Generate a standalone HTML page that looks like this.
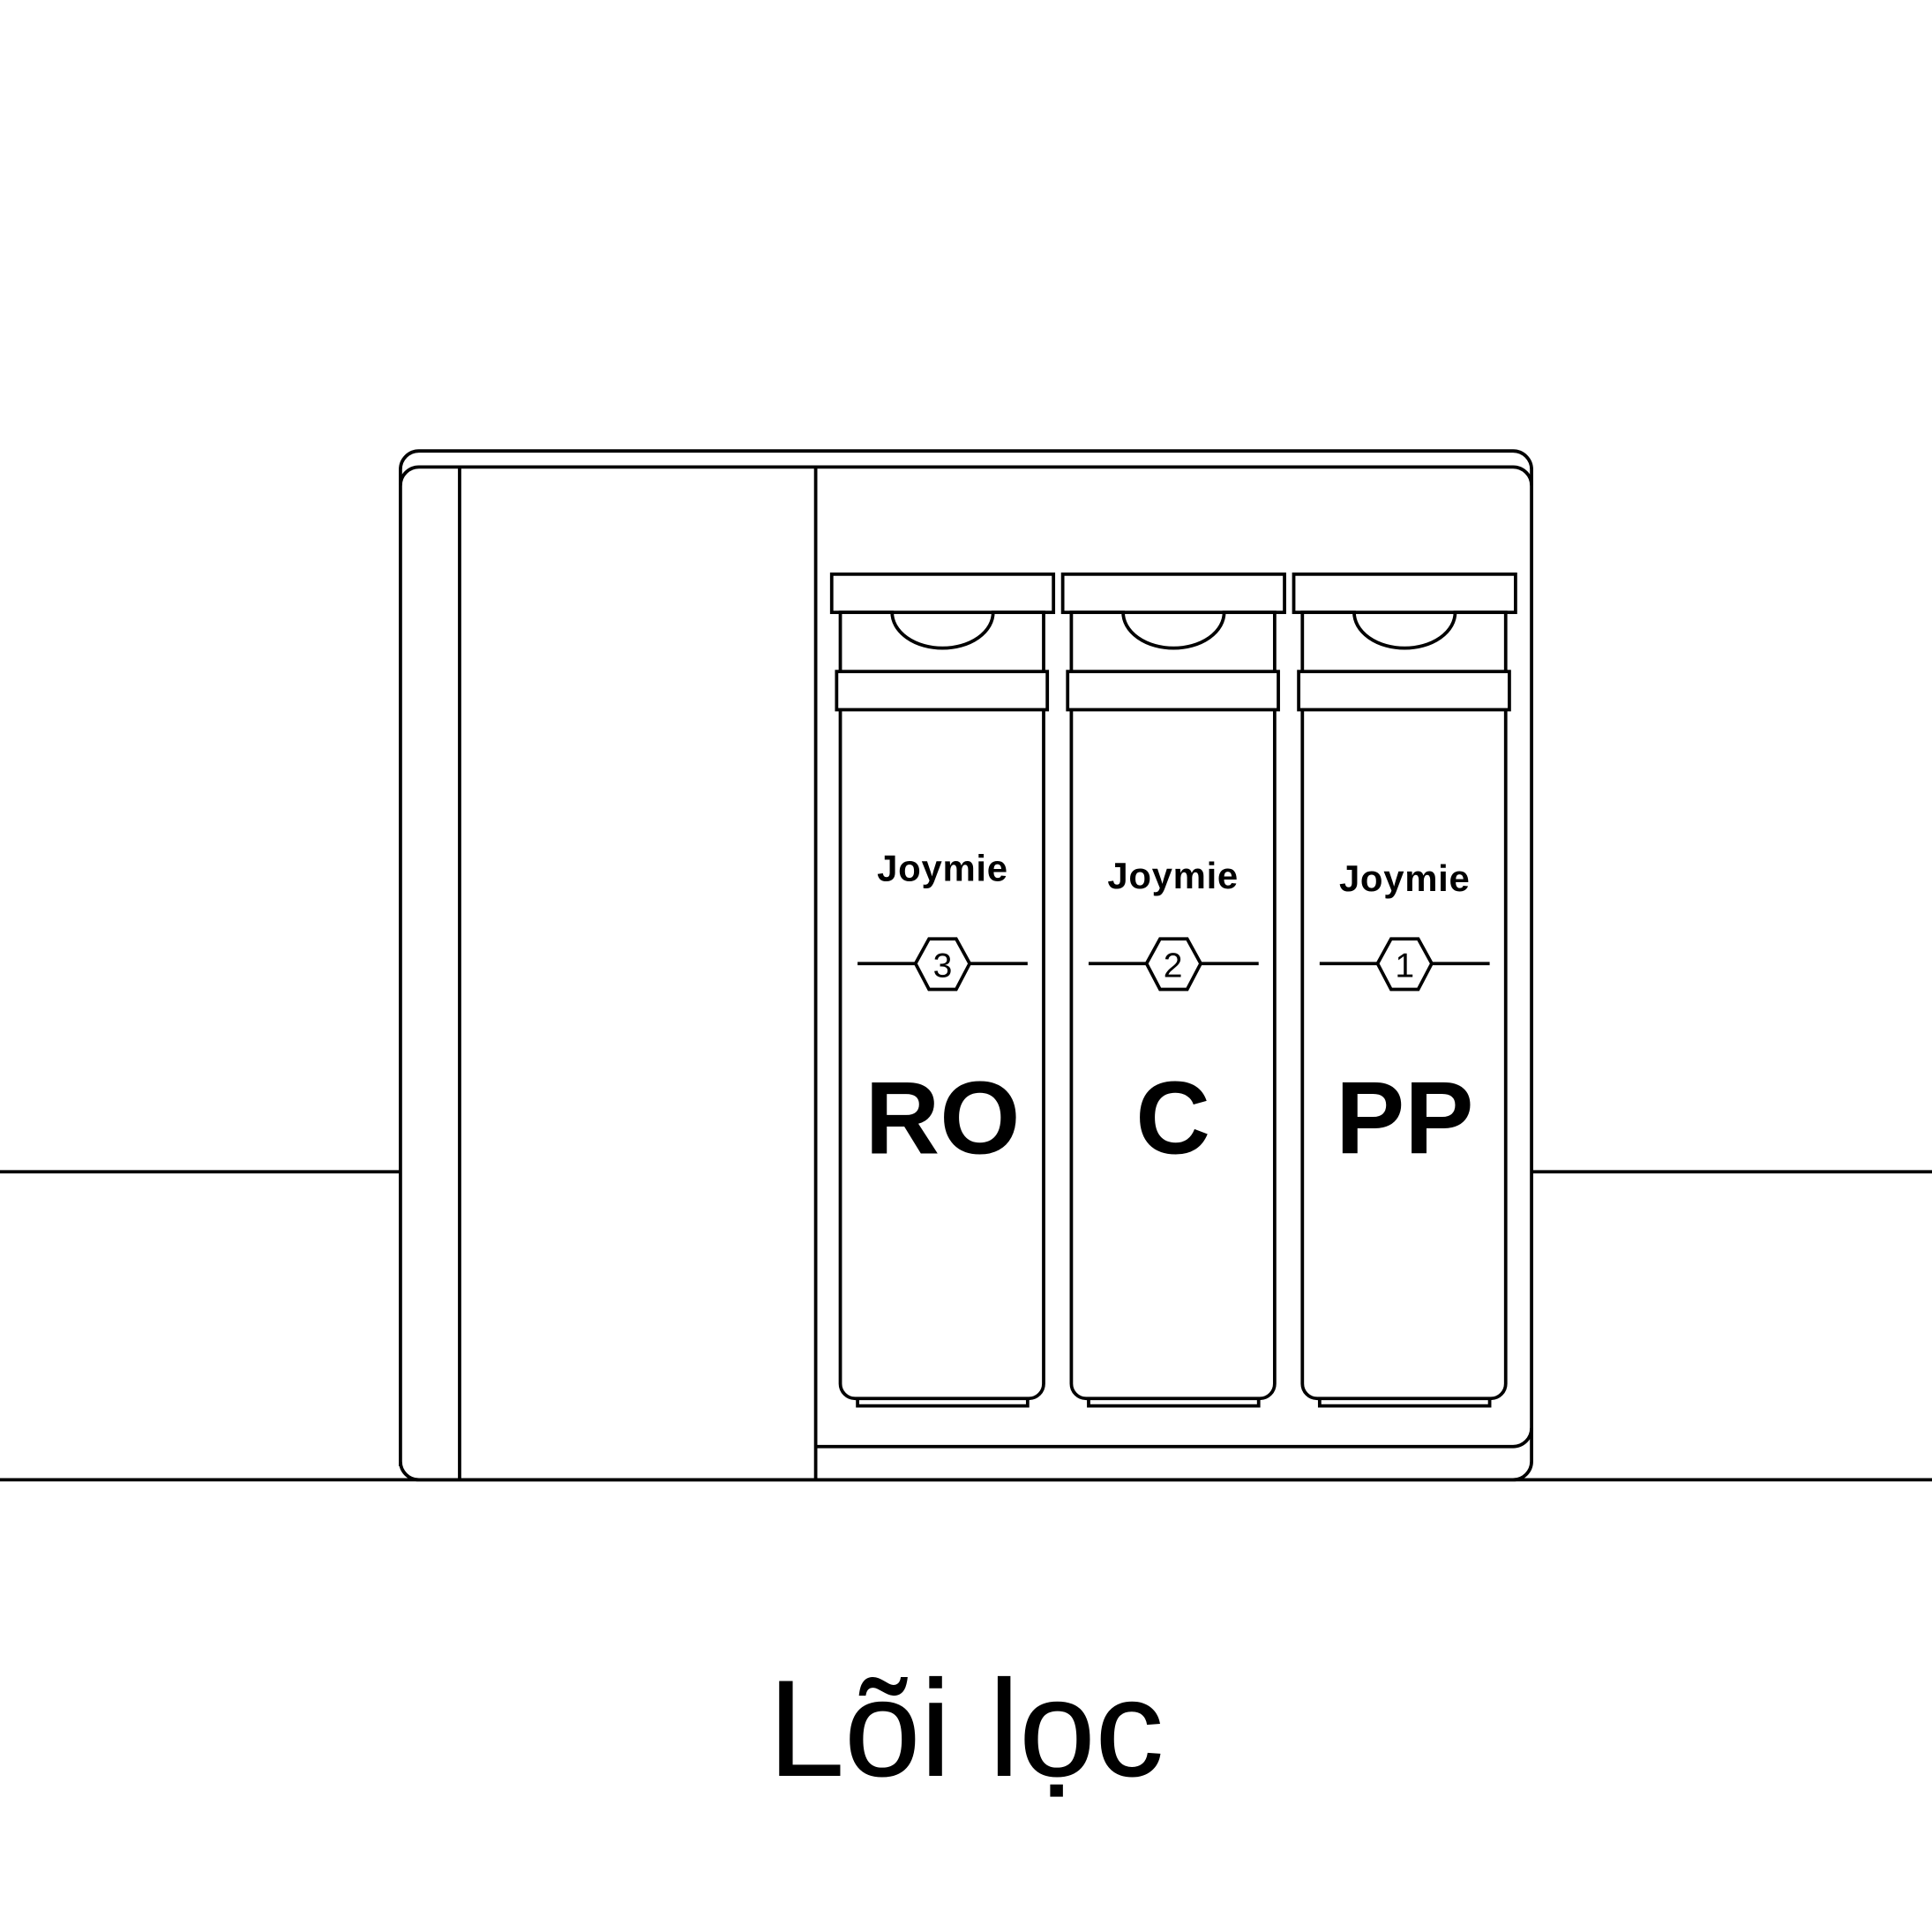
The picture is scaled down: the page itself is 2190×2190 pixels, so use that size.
<!DOCTYPE html>
<html><head><meta charset="utf-8"><style>
html,body{margin:0;padding:0;background:#fff;width:2190px;height:2190px;overflow:hidden}
svg{display:block}
text{font-family:"Liberation Sans",sans-serif;fill:#000}
</style></head><body>
<svg width="2190" height="2190" viewBox="0 0 1568 1568" xmlns="http://www.w3.org/2000/svg">
<g fill="none" stroke="#000" stroke-width="2.7">
<line x1="0" y1="951" x2="325" y2="951"/>
<line x1="1243" y1="951" x2="1568" y2="951"/>
<line x1="0" y1="1201" x2="1568" y2="1201"/>
<path d="M325,1190 V381 a15,15 0 0 1 15,-15 H1228 a15,15 0 0 1 15,15 V1186 a15,15 0 0 1 -15,15 H340 a15,15 0 0 1 -15,-15"/>
<path d="M325,394 a15,15 0 0 1 15,-15 H1228 a15,15 0 0 1 15,15"/>
<line x1="373" y1="379" x2="373" y2="1201"/>
<line x1="662" y1="379" x2="662" y2="1201"/>
<path d="M662,1174 H1228 a15,15 0 0 0 15,-15"/>
</g>
<g id="c" fill="none" stroke="#000" stroke-width="2.7">
<rect x="675" y="466" width="180" height="31"/>
<path d="M682,497 V1123 a12,12 0 0 0 12,12 H835 a12,12 0 0 0 12,-12 V497 H806 a41,29 0 0 1 -82,0 Z"/>
<rect x="679" y="545" width="171" height="31" fill="#fff"/>
<path d="M696,1135 V1141 H834 V1135"/>
<line x1="696" y1="782" x2="743" y2="782"/>
<line x1="787" y1="782" x2="834" y2="782"/>
<polygon points="743,782 754,762 776,762 787,782 776,803 754,803"/>
</g>
<use href="#c" x="187.5"/>
<use href="#c" x="375"/>
<g text-anchor="middle">
<text x="765" y="715" font-size="30" font-weight="bold" letter-spacing="0.5">Joymie</text>
<text x="952" y="721" font-size="30" font-weight="bold" letter-spacing="0.5">Joymie</text>
<text x="1140" y="723" font-size="30" font-weight="bold" letter-spacing="0.5">Joymie</text>
<text x="765" y="793" font-size="28">3</text>
<text x="952" y="793" font-size="28">2</text>
<text x="1140" y="793" font-size="28">1</text>
<text x="765" y="936" font-size="84" font-weight="bold">RO</text>
<text x="952" y="936" font-size="84" font-weight="bold">C</text>
<text x="1140" y="936" font-size="84" font-weight="bold">PP</text>
<text x="784" y="1441" font-size="111" stroke="#000" stroke-width="0.6">Lõi lọc</text>
</g>
</svg>
</body></html>
